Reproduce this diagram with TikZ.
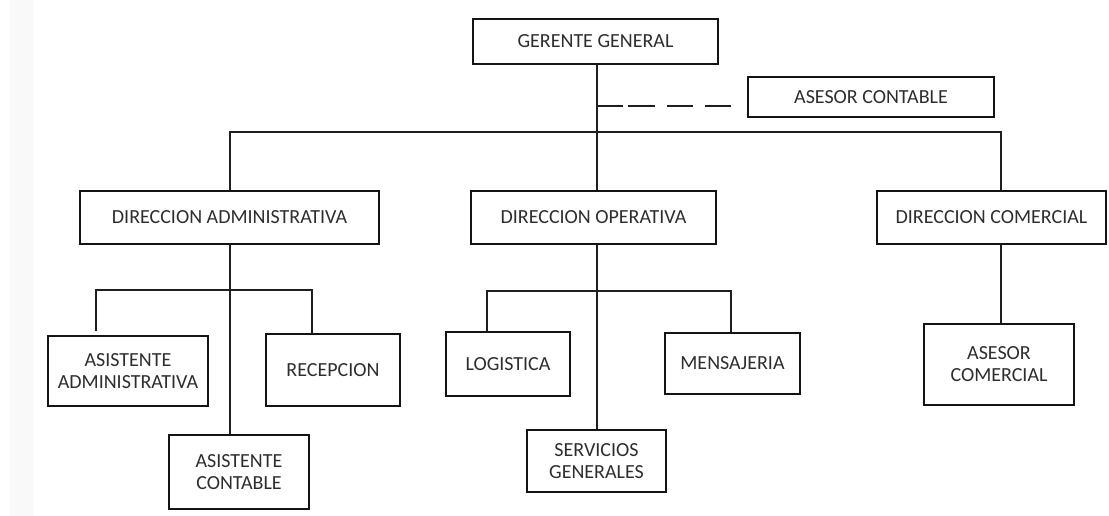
\documentclass[tikz,border=0pt]{standalone}
\usepackage{fontspec}
\setmainfont{Carlito}
\newcommand\orgbox[6]{%
  \node[box, minimum width={(#3)-(#2)}, minimum height={(#5)-(#4)}] (#1)
    at ({((#2)+(#3))/2},{((#4)+(#5))/2}) {#6};}
\begin{document}
\begin{tikzpicture}[x=1pt,y=-1pt,
  box/.style={draw=black!92, line width=2.3pt, fill=white, inner sep=0pt,
    align=center, font=\fontsize{20}{22}\selectfont, text=black!82},
  link/.style={draw=black!88, line width=1.2pt},
  dashlink/.style={link, dash pattern=on 26pt off 5pt on 27pt off 12pt on 26pt off 12pt}]
\useasboundingbox (0,0) rectangle (1109,516);
\fill[black!2.5] (10,0) rectangle (34,516);

\orgbox{ger}{473}{718}{19}{64}{GERENTE GENERAL}
\orgbox{asc}{748}{994}{77}{117}{ASESOR CONTABLE}
\orgbox{dadm}{80}{379}{191}{244}{DIRECCION ADMINISTRATIVA}
\orgbox{dop}{471}{716}{191}{244}{DIRECCION OPERATIVA}
\orgbox{dcom}{877}{1106}{191}{244}{DIRECCION COMERCIAL}
\orgbox{asad}{48}{208}{336}{406}{ASISTENTE\\ADMINISTRATIVA}
\orgbox{rec}{266}{400}{334}{406}{RECEPCION}
\orgbox{asco}{169}{309}{435}{509}{ASISTENTE\\CONTABLE}
\orgbox{log}{446}{570}{332}{396}{LOGISTICA}
\orgbox{men}{665}{800}{333}{394}{MENSAJERIA}
\orgbox{serv}{527}{666}{430}{492}{SERVICIOS\\GENERALES}
\orgbox{ascom}{924}{1074}{324}{405}{ASESOR\\COMERCIAL}

% junction coordinates
\coordinate (cx) at (597,0);
\coordinate (ax) at (230,0);
\coordinate (mx) at (1001,0);
\coordinate (bus) at (0,132);
\coordinate (dashend) at (733,106);
\coordinate (sa) at (96,290);
\coordinate (saend) at (96,331);
\coordinate (sb) at (312,290);
\coordinate (oa) at (487,291);
\coordinate (ob) at (731,291);

% main trunk and bus
\draw[link] (ger.south -| cx) -- (dop.north -| cx);
\draw[link] (ax |- dadm.north) -- (ax |- bus) -- (mx |- bus) -- (mx |- dcom.north);
\draw[dashlink] (cx |- dashend) -- (dashend);

% administrativa
\draw[link] (dadm.south -| ax) -- (asco.north -| ax);
\draw[link] (saend) -- (sa) -- (sb) -- (sb |- rec.north);

% operativa
\draw[link] (dop.south -| cx) -- (serv.north -| cx);
\draw[link] (oa |- log.north) -- (oa) -- (ob) -- (ob |- men.north);

% comercial
\draw[link] (dcom.south -| mx) -- (ascom.north -| mx);
\end{tikzpicture}
\end{document}
